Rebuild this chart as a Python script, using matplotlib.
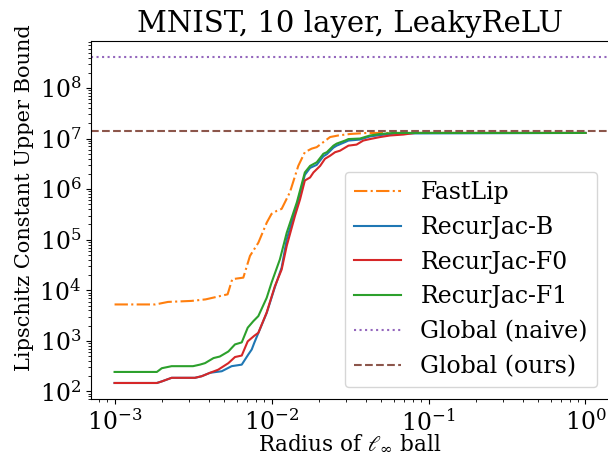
import matplotlib
matplotlib.use("Agg")
import matplotlib.pyplot as plt

plt.rcParams['font.family'] = ['DejaVu Serif']
plt.rcParams['mathtext.fontset'] = 'dejavuserif'
plt.rcParams['font.size'] = 15

# FastLip
fastlip_r = [1.0e-3, 1.82e-3, 2.19e-3, 3.09e-3, 3.80e-3, 4.47e-3, 5.25e-3, 5.62e-3,
             6.61e-3, 7.29e-3, 8.24e-3, 9.33e-3, 1.00e-2, 1.08e-2, 1.16e-2, 1.31e-2,
             1.48e-2, 1.63e-2, 1.80e-2, 1.94e-2, 2.14e-2, 2.36e-2, 2.66e-2, 3.16e-2,
             4.04e-2, 1.0]
fastlip_v = [5248, 5248, 5888, 6166, 6607, 7413, 8318, 16596,
             17783, 47863, 87096, 2.19e5, 3.24e5, 3.72e5, 4.07e5, 8.71e5,
             2.88e6, 5.37e6, 6.31e6, 6.76e6, 8.51e6, 1.07e7, 1.15e7, 1.23e7,
             1.29e7, 1.29e7]

# RecurJac-B
recurjac_b_r = [1.0e-3, 1.86e-3, 2.00e-3, 2.31e-3, 3.25e-3, 3.59e-3, 4.06e-3, 4.82e-3,
                5.57e-3, 6.46e-3, 7.11e-3, 7.48e-3, 7.76e-3, 9.31e-3, 1.05e-2, 1.16e-2,
                1.25e-2, 1.45e-2, 1.63e-2, 1.76e-2, 1.94e-2, 2.14e-2, 2.25e-2, 2.48e-2,
                2.60e-2, 2.94e-2, 3.09e-2, 3.66e-2, 4.24e-2, 4.91e-2, 6.17e-2, 1.0]
recurjac_b_v = [147, 147, 158, 186, 186, 200, 234, 251,
                316, 339, 537, 676, 912, 3548, 11482, 28184,
                1.02e5, 4.79e5, 1.91e6, 2.63e6, 3.02e6, 4.47e6, 4.90e6, 6.61e6,
                7.24e6, 8.51e6, 9.12e6, 9.55e6, 1.10e7, 1.17e7, 1.26e7, 1.29e7]

# RecurJac-F0
recurjac_f0_r = [1.0e-3, 1.86e-3, 2.00e-3, 2.31e-3, 3.25e-3, 3.59e-3, 4.06e-3, 4.57e-3,
                 5.31e-3, 5.85e-3, 6.46e-3, 7.05e-3, 7.76e-3, 8.24e-3, 9.31e-3, 1.05e-2,
                 1.16e-2, 1.25e-2, 1.41e-2, 1.52e-2, 1.63e-2, 1.76e-2, 1.85e-2, 2.04e-2,
                 2.19e-2, 2.36e-2, 2.54e-2, 2.73e-2, 3.09e-2, 3.48e-2, 3.84e-2, 4.24e-2,
                 4.91e-2, 5.69e-2, 6.92e-2, 8.20e-2, 1.0]
recurjac_f0_v = [147, 147, 158, 186, 186, 200, 234, 269,
                 363, 479, 513, 977, 1259, 1445, 3631, 12023,
                 25704, 75858, 2.95e5, 6.31e5, 1.48e6, 1.70e6, 2.14e6, 2.88e6,
                 3.98e6, 4.57e6, 5.37e6, 5.75e6, 7.24e6, 7.59e6, 9.12e6, 9.77e6,
                 1.07e7, 1.15e7, 1.20e7, 1.29e7, 1.29e7]

# RecurJac-F1
recurjac_f1_r = [1.0e-3, 1.86e-3, 2.00e-3, 2.31e-3, 3.16e-3, 3.50e-3, 3.77e-3, 4.27e-3,
                 4.68e-3, 5.31e-3, 5.85e-3, 6.46e-3, 7.05e-3, 7.66e-3, 8.24e-3, 9.31e-3,
                 1.00e-2, 1.13e-2, 1.25e-2, 1.45e-2, 1.63e-2, 1.76e-2, 1.94e-2, 2.14e-2,
                 2.25e-2, 2.48e-2, 2.60e-2, 2.94e-2, 3.09e-2, 3.66e-2, 4.24e-2, 4.91e-2,
                 5.97e-2, 1.0]
recurjac_f1_v = [243, 243, 288, 316, 316, 339, 363, 457,
                 490, 617, 851, 933, 1820, 2455, 3090, 7079,
                 14125, 40738, 1.38e5, 5.50e5, 2.14e6, 2.88e6, 3.39e6, 5.01e6,
                 5.37e6, 7.24e6, 7.94e6, 9.12e6, 9.77e6, 1.00e7, 1.15e7, 1.23e7,
                 1.29e7, 1.29e7]

global_naive = 4.1e8
global_ours = 1.42e7

labels = ["FastLip", "RecurJac-B", "RecurJac-F0", "RecurJac-F1",
          "Global (naive)", "Global (ours)"]

fig = plt.figure(figsize=(6.08, 4.58), dpi=100)
ax = fig.add_axes([0.1497, 0.1282, 0.852, 0.783])

ax.plot(fastlip_r, fastlip_v, color='C1', linestyle='-.', lw=1.5, label=labels[0])
ax.plot(recurjac_b_r, recurjac_b_v, color='C0', lw=1.5, label=labels[1])
ax.plot(recurjac_f0_r, recurjac_f0_v, color='C3', lw=1.5, label=labels[2])
ax.plot(recurjac_f1_r, recurjac_f1_v, color='C2', lw=1.5, label=labels[3])
ax.axhline(global_naive, color='C4', linestyle=':', lw=1.5, label=labels[4])
ax.axhline(global_ours, color='C5', linestyle='--', lw=1.5, label=labels[5])

ax.set_xscale('log')
ax.set_yscale('log')
ax.set_title("MNIST, 10 layer, LeakyReLU", fontsize=21)
ax.set_xlabel(r"Radius of $\ell_\infty$ ball", fontsize=15.5, labelpad=-2)
ax.set_ylabel("Lipschitz Constant Upper Bound", fontsize=15, y=0.563)
ax.tick_params(labelsize=17)
ax.legend(loc='lower right', fontsize=17)

fig.savefig("out.png", dpi=100)
